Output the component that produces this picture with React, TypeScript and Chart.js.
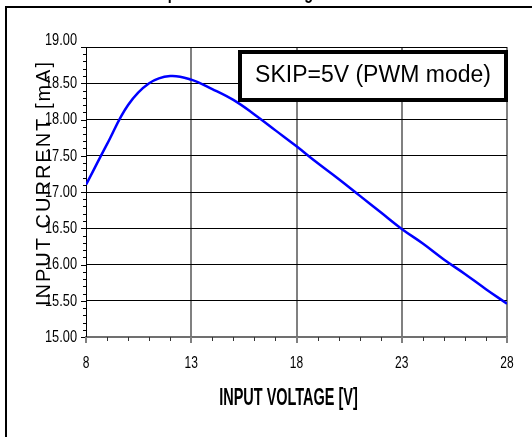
import React, { useEffect, useRef } from 'react';
import { Chart, registerables } from 'chart.js';

Chart.register(...registerables);

const voltages = [8, 9, 10, 11, 12, 13, 14, 15, 16, 17, 18, 19, 20, 21, 22, 23, 24, 25, 26, 27, 28];
const currents = [17.10, 17.66, 18.20, 18.50, 18.60, 18.55, 18.42, 18.27, 18.07, 17.85, 17.63, 17.40, 17.18, 16.95, 16.72, 16.49, 16.29, 16.07, 15.87, 15.66, 15.46];

const xTickLabels = ['8', '13', '18', '23', '28'];
const yTickLabels = ['15.00', '15.50', '16.00', '16.50', '17.00', '17.50', '18.00', '18.50', '19.00'];

const titleText = 'Input Current vs Voltage';
const noteText = 'SKIP=5V (PWM mode)';
const xAxisTitle = 'INPUT VOLTAGE [V]';
const yAxisTitle = 'INPUT CURRENT [mA]';

const FONT = '"Liberation Sans", Arial, sans-serif';

const decor = {
  id: 'decor',
  afterDraw(chart: any) {
    const ctx = chart.ctx as CanvasRenderingContext2D;
    const xs = chart.scales.x;
    const ys = chart.scales.y;
    const ca = chart.chartArea;
    ctx.save();

    // minor / major y ticks
    ctx.strokeStyle = '#000';
    ctx.lineWidth = 1;
    for (let i = 0; i <= 40; i++) {
      const v = 15 + i / 10;
      const py = Math.round(ys.getPixelForValue(v)) + 0.5;
      const len = i % 5 === 0 ? 5 : 3;
      ctx.beginPath();
      ctx.moveTo(ca.left - len, py);
      ctx.lineTo(ca.left, py);
      ctx.stroke();
    }
    // x ticks
    for (let v = 8; v <= 28; v++) {
      const major = (v - 8) % 5 === 0;
      const px = Math.round(xs.getPixelForValue(v)) + (major ? 0 : 0.5);
      ctx.strokeStyle = major ? '#808080' : '#333';
      ctx.lineWidth = major ? 2 : 1;
      ctx.beginPath();
      ctx.moveTo(px, ca.bottom);
      ctx.lineTo(px, ca.bottom + (major ? 6 : 4));
      ctx.stroke();
    }

    // y tick labels
    ctx.fillStyle = '#000';
    ctx.font = `16px ${FONT}`;
    ctx.textAlign = 'right';
    ctx.textBaseline = 'middle';
    yTickLabels.forEach((lab, i) => {
      const v = parseFloat(lab);
      let py = ys.getPixelForValue(v);
      if (i === yTickLabels.length - 1) py -= 7;
      ctx.save();
      ctx.translate(77, py + 0.5);
      ctx.scale(0.8, 1);
      ctx.fillText(lab, 0, 0);
      ctx.restore();
    });
    // x tick labels
    ctx.font = `16px ${FONT}`;
    ctx.textAlign = 'center';
    ctx.textBaseline = 'alphabetic';
    xTickLabels.forEach((lab) => {
      const px = xs.getPixelForValue(parseFloat(lab));
      ctx.save();
      ctx.translate(px, 368);
      ctx.scale(0.75, 1);
      ctx.fillText(lab, 0, 0);
      ctx.restore();
    });

    // x axis title
    ctx.save();
    ctx.font = `bold 23px ${FONT}`;
    ctx.translate(288.5, 405);
    ctx.scale(0.63, 1);
    ctx.fillText(xAxisTitle, 0, 0);
    ctx.restore();

    // y axis title
    ctx.save();
    ctx.font = `20px ${FONT}`;
    (ctx as any).letterSpacing = '2px';
    ctx.translate(50, 183);
    ctx.rotate(-Math.PI / 2);
    ctx.textAlign = 'center';
    ctx.fillText(yAxisTitle, 0, 0);
    ctx.restore();

    // note box
    ctx.fillStyle = '#fff';
    ctx.fillRect(238, 50, 270, 52);
    ctx.strokeStyle = '#000';
    ctx.lineWidth = 4;
    ctx.strokeRect(240, 52, 266, 48);
    ctx.fillStyle = '#000';
    ctx.font = `23px ${FONT}`;
    ctx.textAlign = 'center';
    ctx.textBaseline = 'alphabetic';
    ctx.fillText(noteText, 373, 82);

    // outer frame
    ctx.lineWidth = 2;
    ctx.strokeRect(6, 7, 700, 700);

    // cut-off title
    ctx.save();
    ctx.font = `bold 20px ${FONT}`;
    ctx.textAlign = 'left';
    ctx.translate(155, -1);
    ctx.scale(0.72, 1);
    ctx.fillText(titleText, 0, 0);
    ctx.restore();

    ctx.restore();
  },
};

export default function App() {
  const ref = useRef<HTMLCanvasElement | null>(null);
  useEffect(() => {
    if (!ref.current) return;
    const chart = new Chart(ref.current, {
      type: 'line',
      data: {
        datasets: [
          {
            data: voltages.map((v, i) => ({ x: v, y: currents[i] })),
            borderColor: '#0000ff',
            borderWidth: 2.5,
            pointRadius: 0,
            tension: 0.4,
            fill: false,
          },
        ],
      },
      options: {
        responsive: false,
        animation: false,
        events: [],
        layout: { padding: { left: 0, top: 47, right: 25, bottom: 70 } },
        plugins: { legend: { display: false }, tooltip: { enabled: false }, title: { display: false } },
        scales: {
          x: {
            type: 'linear',
            min: 8,
            max: 28,
            ticks: { stepSize: 5, display: false },
            grid: {
              drawTicks: false,
              color: (c: any) => (c.tick && c.tick.value === 8 ? 'rgba(0,0,0,0)' : '#808080'),
              lineWidth: 2,
            },
            border: { display: true, color: '#707070', width: 2 },
            afterFit: (s: any) => { s.height = 30; },
          },
          y: {
            type: 'linear',
            min: 15,
            max: 19,
            ticks: { stepSize: 0.5, display: false },
            grid: {
              drawTicks: false,
              color: (c: any) => (c.tick && c.tick.value === 15 ? 'rgba(0,0,0,0)' : '#000'),
              lineWidth: 1,
            },
            border: { display: true, color: '#000', width: 1 },
            afterFit: (s: any) => { s.width = 86; },
          },
        },
      },
      plugins: [decor],
    });
    return () => chart.destroy();
  }, []);
  return (
    <div style={{ position: 'absolute', left: 0, top: 0, width: 532, height: 437, background: '#fff' }}>
      <canvas ref={ref} width={532} height={437} style={{ display: 'block' }} />
    </div>
  );
}
